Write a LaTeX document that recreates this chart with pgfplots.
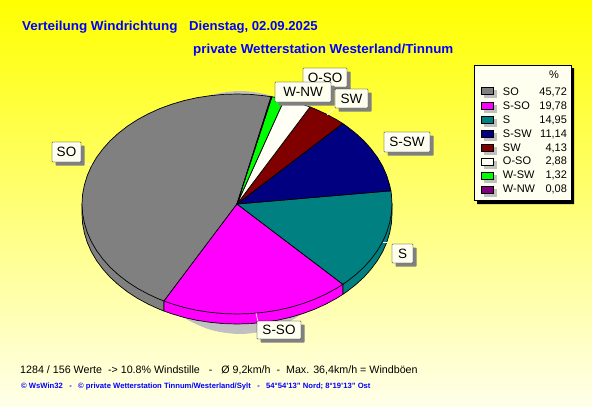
\documentclass[border=0pt]{standalone}
\usepackage{fontspec}
\setmainfont{Liberation Sans}
\usepackage{graphicx}
\usepackage{pgfplots}
\pgfplotsset{compat=1.18}
\usetikzlibrary{shadows}

\definecolor{cream}{RGB}{255,255,240}
\definecolor{pieshadow}{RGB}{192,192,192}
\definecolor{tblue}{RGB}{0,0,255}
\definecolor{cSO}{RGB}{128,128,128}
\definecolor{cSSO}{RGB}{255,0,255}
\definecolor{cS}{RGB}{0,128,128}
\definecolor{cSSW}{RGB}{0,0,128}
\definecolor{cSW}{RGB}{128,0,0}
\definecolor{cOSO}{RGB}{255,255,245}
\definecolor{cWSW}{RGB}{0,255,0}
\definecolor{cWNW}{RGB}{128,0,128}

\tikzset{
  lbl/.style={draw=black, fill=cream, rounded corners=0.6pt, inner sep=0pt,
    font=\fontsize{13.5}{15}\selectfont, text=black, align=center,
    general shadow={fill=black!50, shadow xshift=3.5pt, shadow yshift=-3.5pt}},
  leader/.style={white, line width=0.7pt},
}

\newcommand{\row}[2]{\hspace*{4pt}\makebox[36pt][l]{#1}\makebox[28pt][r]{#2}\kern-5pt\hbox{}}

\begin{document}
\begin{tikzpicture}
\begin{axis}[
  width=592pt, height=407pt, scale only axis,
  xmin=0, xmax=592, ymin=0, ymax=407, y dir=reverse,
  ticks=none, axis line style={draw=none},
  axis background/.style={top color=yellow, bottom color=white!92!yellow},
  legend style={at={(axis cs:474,65)}, anchor=north west, draw=black, fill=cream,
    font=\fontsize{11}{12}\selectfont, row sep=0.45pt, inner xsep=7pt, inner ysep=4pt},
  legend cell align=left,
  legend image code/.code={
    \fill[pieshadow] (3pt,-6.5pt) rectangle (15pt,0.5pt);
    \draw[#1, line width=0.8pt] (0pt,-3.5pt) rectangle (12pt,3.5pt);
  },
]
% shadow under the pie
\addplot[fill=pieshadow, draw=none, smooth, forget plot] coordinates {
  (352,212.5)(348.2,181.1)(337,151.7)(319.2,126.6)(296,107.3)(269,95.1)(240,91)(211,95.1)
  (184,107.3)(160.8,126.6)(143,151.7)(131.8,181.1)(128,212.5)(131.8,243.9)(143,273.3)
  (160.8,298.4)(184,317.7)(211,329.9)(240,334)(269,329.9)(296,317.7)(319.2,298.4)
  (337,273.3)(348.2,243.9)(352,212.5)};

% rim
\addplot[fill=cSO, draw=black, line width=0.7pt, forget plot] coordinates {
  (82,204)(82,214)(82.6,223.6)(84.4,233.1)(87.3,242.5)(91.3,251.6)(96.5,260.5)(102.8,269)
  (110,277.1)(118.3,284.7)(127.4,291.8)(137.4,298.3)(148.1,304.1)(159.5,309.3)(164,311)
  (164,301)(237,204)(82,204)};
\addplot[fill=cSSO, draw=black, line width=0.7pt, forget plot] coordinates {
  (164,301)(164,311)(171.5,313.7)(184,317.4)(196.9,320.3)(210.1,322.3)(223.5,323.6)(237,324)
  (250.5,323.6)(263.9,322.3)(277.1,320.3)(290,317.4)(302.5,313.7)(314.5,309.3)(325.9,304.1)
  (336.6,298.3)(342.9,294.3)(342.9,284.3)(237,204)(164,301)};
\addplot[fill=cS, draw=black, line width=0.7pt, forget plot] coordinates {
  (342.9,284.3)(342.9,294.3)(346.6,291.8)(355.7,284.7)(364,277.1)(371.2,269)(377.5,260.5)
  (382.7,251.6)(386.7,242.5)(389.6,233.1)(391.4,223.6)(392,214)(392,204)(237,204)(342.9,284.3)};

% black shadow of the legend box
\addplot[fill=black, draw=none, forget plot] coordinates {(477,68)(574,68)(574,204)(477,204)(477,68)};

\addlegendimage{empty legend}
\addlegendentry{\hspace*{4pt}\makebox[64pt][r]{\%\hspace{8pt}}\kern-5pt\hbox{}}

% slices, top surface
\addplot[fill=cSO, draw=black, line width=0.7pt] coordinates {
  (237,204)(164,301)(159.5,299.3)(148.1,294.1)(137.4,288.3)(127.4,281.8)(118.3,274.7)(110,267.1)
  (102.8,259)(96.5,250.5)(91.3,241.6)(87.3,232.5)(84.4,223.1)(82.6,213.6)(82,204)(82.6,194.4)
  (84.4,184.9)(87.3,175.5)(91.3,166.4)(96.5,157.5)(102.8,149)(110,140.9)(118.3,133.3)(127.4,126.2)
  (137.4,119.7)(148.1,113.9)(159.5,108.7)(171.5,104.3)(184,100.6)(196.9,97.7)(210.1,95.7)
  (223.5,94.4)(237,94)(250.5,94.4)(263.9,95.7)(271.1,96.7)(237,204)};
\addlegendentry{\rule{0pt}{11pt}\row{SO}{45,72}}
\addplot[fill=cSSO, draw=black, line width=0.7pt] coordinates {
  (237,204)(342.9,284.3)(336.6,288.3)(325.9,294.1)(314.5,299.3)(302.5,303.7)(290,307.4)(277.1,310.3)
  (263.9,312.3)(250.5,313.6)(237,314)(223.5,313.6)(210.1,312.3)(196.9,310.3)(184,307.4)(171.5,303.7)
  (164,301)(237,204)};
\addlegendentry{\row{S-SO}{19,78}}
\addplot[fill=cS, draw=black, line width=0.7pt] coordinates {
  (237,204)(390.9,190.8)(391.4,194.4)(392,204)(391.4,213.6)(389.6,223.1)(386.7,232.5)(382.7,241.6)
  (377.5,250.5)(371.2,259)(364,267.1)(355.7,274.7)(346.6,281.8)(342.9,284.3)(237,204)};
\addlegendentry{\row{S}{14,95}}
\addplot[fill=cSSW, draw=black, line width=0.7pt] coordinates {
  (237,204)(342.7,123.5)(346.6,126.2)(355.7,133.3)(364,140.9)(371.2,149)(377.5,157.5)(382.7,166.4)
  (386.7,175.5)(389.6,184.9)(390.9,190.8)(237,204)};
\addlegendentry{\row{S-SW}{11,14}}
\addplot[fill=cSW, draw=black, line width=0.7pt] coordinates {
  (237,204)(310,107)(314.5,108.7)(325.9,113.9)(336.6,119.7)(342.7,123.5)(237,204)};
\addlegendentry{\row{SW}{4,13}}
\addplot[fill=cOSO, draw=black, line width=0.7pt] coordinates {
  (237,204)(284.4,99.3)(290,100.6)(302.5,104.3)(310,107)(237,204)};
\addlegendentry{\row{O-SO}{2,88}}
\addplot[fill=cWSW, draw=black, line width=0.7pt] coordinates {
  (237,204)(271.9,96.8)(277.1,97.7)(284.4,99.3)(237,204)};
\addlegendentry{\row{W-SW}{1,32}}
\addplot[fill=cWNW, draw=black, line width=0.7pt] coordinates {
  (237,204)(271.1,96.7)(271.9,96.8)(237,204)};
\addlegendentry{\row{W-NW}{0,08}}

% leader lines
\draw[leader] (axis cs:84,163) -- (axis cs:92,165);
\draw[leader] (axis cs:256,313) -- (axis cs:258,322);
\draw[leader] (axis cs:388,242) -- (axis cs:383,242);
\draw[leader] (axis cs:384,152) -- (axis cs:377,155);
\draw[leader] (axis cs:335,108) -- (axis cs:327,115);

% labels
\node[lbl, minimum width=29pt, minimum height=20pt] at (axis cs:66.5,152) {SO};
\node[lbl, minimum width=44pt, minimum height=18pt] at (axis cs:279,330) {S-SO};
\node[lbl, minimum width=21pt, minimum height=19pt] at (axis cs:402.5,253.5) {S};
\node[lbl, minimum width=46pt, minimum height=20pt] at (axis cs:407,142) {S-SW};
\node[lbl, minimum width=44pt, minimum height=19pt] at (axis cs:325,77.5) {O-SO};
\node[lbl, minimum width=33pt, minimum height=19pt] at (axis cs:351.5,98.5) {SW};
\node[lbl, minimum width=56pt, minimum height=20pt] at (axis cs:303,92) {W-NW};

% titles and footer
\node[anchor=west, text=tblue, inner sep=0pt, font=\fontsize{13}{15}\selectfont\bfseries] at (axis cs:22,27)
  {\scalebox{1.035}[1]{Verteilung Windrichtung}};
\node[anchor=west, text=tblue, inner sep=0pt, font=\fontsize{13}{15}\selectfont\bfseries] at (axis cs:189,27)
  {\scalebox{1.01}[1]{Dienstag, 02.09.2025}};
\node[anchor=west, text=tblue, inner sep=0pt, font=\fontsize{13}{15}\selectfont\bfseries] at (axis cs:193,50)
  {\scalebox{1.029}[1]{private Wetterstation Westerland/Tinnum}};
\node[anchor=west, inner sep=0pt, font=\fontsize{10.7}{13}\selectfont] at (axis cs:20,370)
  {1284 / 156 Werte\ \ -> 10.8\% Windstille\ \ \ -\ \ \ Ø 9,2km/h\ \ -\ \ Max. 36,4km/h = Windböen};
\node[anchor=west, text=tblue, inner sep=0pt, font=\fontsize{7.65}{9}\selectfont\bfseries] at (axis cs:21,387)
  {© WsWin32\ \ \ -\ \ \ © private Wetterstation Tinnum/Westerland/Sylt\ \ \ -\ \ \ 54°54'13" Nord; 8°19'13" Ost};
\end{axis}
\end{tikzpicture}
\end{document}
